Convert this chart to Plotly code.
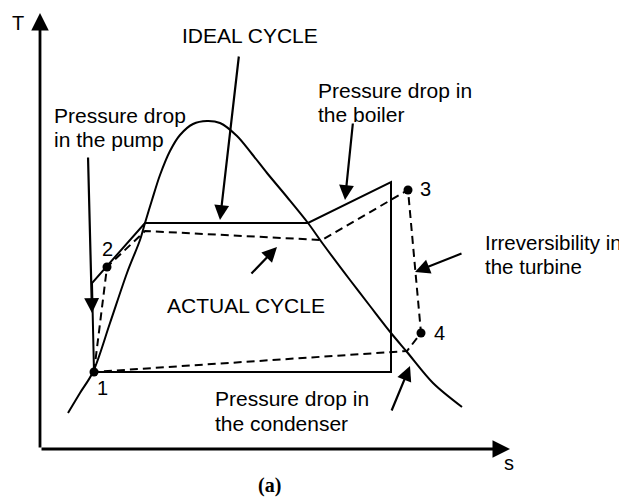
import plotly.graph_objects as go

# Saturation dome (s, T) in diagram units
dome_s = [28, 40, 53, 70, 87, 100, 105, 112, 120, 130, 140, 153, 167, 180, 197, 212, 227, 247, 268, 283, 310, 330, 351, 367, 393, 422]
dome_T = [36, 56, 77, 126, 176, 209, 226, 249, 274, 298, 314, 325, 328, 326, 313, 295, 276, 252, 226, 205, 169, 143, 116, 97, 66, 42]

# Ideal cycle (solid)
ideal_s = [54, 52, 105, 268, 351, 351, 54]
ideal_T = [77, 166, 226, 226, 267, 77, 77]

# Actual cycle (dashed)
actual_s = [54, 67, 105, 282, 368, 381, 367, 54]
actual_T = [77, 182, 218, 209, 259, 116, 98, 77]

# State points
state_labels = ["1", "2", "3", "4"]
state_s = [54, 67, 368, 381]
state_T = [77, 182, 259, 116]
label_s = [62, 67, 385, 399]
label_T = [61, 200, 260, 116]

# Centered labels
texts = ["IDEAL CYCLE", "ACTUAL CYCLE"]
text_s = [210, 206]
text_T = [414, 144]

# Left-anchored text lines
left_lines = ["Pressure drop", "in the pump", "Pressure drop in", "the boiler",
              "Irreversibility in", "the turbine", "Pressure drop in", "the condenser"]
left_s = [12, 12, 276, 276, 443, 443, 173, 173]
left_T = [334, 310, 359, 335, 207, 183, 51, 26]
left_size = [21, 21, 21, 21, 20.5, 20.5, 21, 21]

# Annotation arrows: tail -> tip
arrow_tail_s = [199, 48, 313, 210, 423, 351]
arrow_tail_T = [394, 293, 327, 174, 196, 37]
arrow_tip_s = [180, 52, 305, 237, 375, 370]
arrow_tip_T = [229, 136, 249, 202, 177, 83]

# The page body has an 8px margin: shift the visible ranges to compensate
S_MIN, S_MAX = -32, 587
T_MIN, T_MAX = -49, 441
AXIS_S_END = 470
AXIS_T_END = 436

FONT = "Liberation Sans, Arial, sans-serif"
FS = 21

fig = go.Figure()
fig.add_trace(go.Scatter(x=dome_s, y=dome_T, mode="lines", line=dict(color="black", width=2, shape="spline", smoothing=0.9), hoverinfo="skip"))
fig.add_trace(go.Scatter(x=ideal_s, y=ideal_T, mode="lines", line=dict(color="black", width=2), hoverinfo="skip"))
fig.add_trace(go.Scatter(x=actual_s, y=actual_T, mode="lines", line=dict(color="black", width=2, dash="8px,5px"), hoverinfo="skip"))
fig.add_trace(go.Scatter(x=state_s, y=state_T, mode="markers", marker=dict(color="black", size=9), hoverinfo="skip"))

ann = []
for lab, x, y in zip(state_labels, label_s, label_T):
    ann.append(dict(x=x, y=y, text=lab, showarrow=False, font=dict(family=FONT, size=20, color="black"), xanchor="center", yanchor="middle"))
for t, x, y in zip(texts, text_s, text_T):
    ann.append(dict(x=x, y=y, text=t, showarrow=False, font=dict(family=FONT, size=FS, color="black"), xanchor="center", yanchor="middle"))
for t, x, y, sz in zip(left_lines, left_s, left_T, left_size):
    ann.append(dict(x=x, y=y, text=t, showarrow=False, font=dict(family=FONT, size=sz, color="black"), xanchor="left", yanchor="middle"))
for ts, tt, hs, ht in zip(arrow_tail_s, arrow_tail_T, arrow_tip_s, arrow_tip_T):
    ann.append(dict(x=hs, y=ht, ax=ts, ay=tt, axref="x", ayref="y", text="", showarrow=True,
                    arrowhead=2, arrowsize=1.35, arrowwidth=2.2, arrowcolor="black", standoff=0, startstandoff=0))
# axes arrows
ann.append(dict(x=0, y=AXIS_T_END, ax=0, ay=0, axref="x", ayref="y", text="", showarrow=True,
                arrowhead=2, arrowsize=1.25, arrowwidth=2.8, arrowcolor="black", standoff=0))
ann.append(dict(x=AXIS_S_END, y=0, ax=0, ay=0, axref="x", ayref="y", text="", showarrow=True,
                arrowhead=2, arrowsize=1.25, arrowwidth=2.8, arrowcolor="black", standoff=0))
ann.append(dict(x=-22, y=426, text="T", showarrow=False, font=dict(family=FONT, size=20, color="black")))
ann.append(dict(x=469, y=-14, text="s", showarrow=False, font=dict(family=FONT, size=20, color="black")))
ann.append(dict(x=229, y=-36, text="<b>(a)</b>", showarrow=False, yanchor="middle",
                font=dict(family="Liberation Serif, Times New Roman, serif", size=20, color="black")))

fig.update_layout(
    width=619, height=490, autosize=False,
    margin=dict(l=0, r=0, t=0, b=0),
    paper_bgcolor="white", plot_bgcolor="white",
    showlegend=False,
    xaxis=dict(range=[S_MIN, S_MAX], visible=False, fixedrange=True),
    yaxis=dict(range=[T_MIN, T_MAX], visible=False, fixedrange=True),
    annotations=ann,
)
fig.write_html("out.html")
